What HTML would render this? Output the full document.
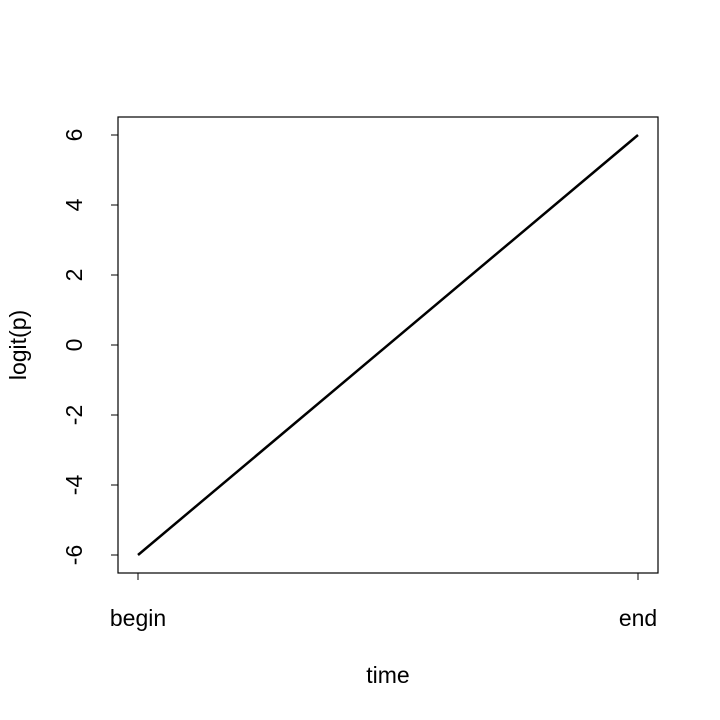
<!DOCTYPE html>
<html><head><meta charset="utf-8"><style>
body{margin:0;background:#fff}
svg{display:block;font-family:"Liberation Sans",Arial,sans-serif}
</style></head><body>
<svg id="chart" width="720" height="720" viewBox="0 0 720 720">
<rect x="0" y="0" width="720" height="720" fill="#fff"/>
<rect x="118" y="117" width="540" height="456" fill="none" stroke="#000" stroke-width="1.2"/>
<g id="yaxis"></g>
<g id="xaxis"></g>
<g id="series"></g>
<text x="388" y="683" font-size="23" text-anchor="middle">time</text>
<text x="0" y="0" font-size="23" text-anchor="middle" transform="translate(26,345) rotate(-90)">logit(p)</text>
</svg>
<script>
const categories = ["begin", "end"];
const values = [-6, 6];
const yTicks = [-6, -4, -2, 0, 2, 4, 6];
const NS = "http://www.w3.org/2000/svg";
function xs(i){ return 138 + i * 500; }
function ys(v){ return 345 - v * 35; }
function mk(tag, attrs, parent){ const e=document.createElementNS(NS,tag); for(const k in attrs) e.setAttribute(k, attrs[k]); parent.appendChild(e); return e; }
const ya = document.getElementById('yaxis');
mk('line',{x1:118,x2:118,y1:ys(yTicks[0]),y2:ys(yTicks[yTicks.length-1]),stroke:'#000'},ya);
yTicks.forEach(t=>{
  const l = mk('line',{x1:111,x2:118,y1:ys(t),y2:ys(t),stroke:'#000'},ya);
  
  
  const tx = mk('text',{x:0,y:0,'font-size':23,'text-anchor':'middle',transform:`translate(82,${ys(t)}) rotate(-90)`},ya);
  tx.textContent = String(t);
  
  
});
const xa = document.getElementById('xaxis');
mk('line',{x1:xs(0),x2:xs(categories.length-1),y1:573,y2:573,stroke:'#000'},xa);
categories.forEach((c,i)=>{
  const l = mk('line',{x1:xs(i),x2:xs(i),y1:573,y2:580,stroke:'#000'},xa);
  
  
  const tx = mk('text',{x:xs(i),y:626,'font-size':23,'text-anchor':'middle'},xa);
  tx.textContent = c;
  
  
});
const s = document.getElementById('series');
const pts = values.map((v,i)=>xs(i)+','+ys(v)).join(' ');
const pl = mk('polyline',{points:pts,fill:'none',stroke:'#000','stroke-width':2.5},s);


</script>
</body></html>
